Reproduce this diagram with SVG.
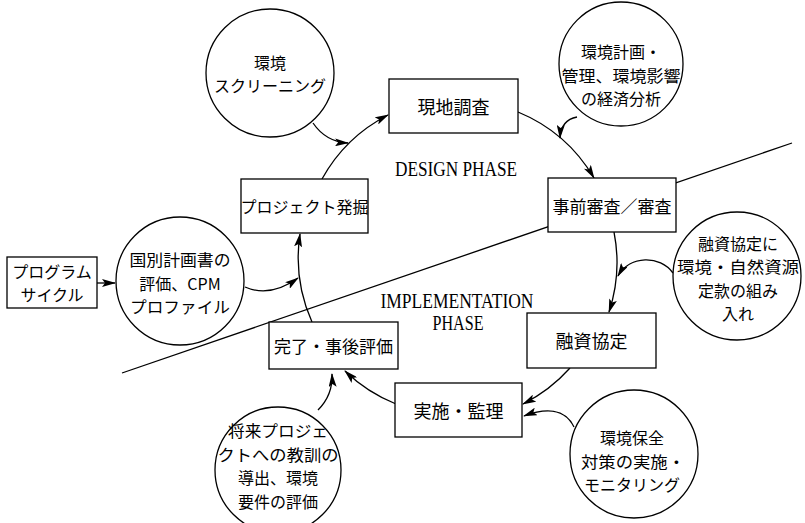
<svg xmlns="http://www.w3.org/2000/svg" width="805" height="523" viewBox="0 0 805 523">
<defs>
<marker id="ah" viewBox="0 0 14 8" refX="13" refY="4" markerWidth="14" markerHeight="8" markerUnits="userSpaceOnUse" orient="auto"><path d="M0,0 L14,4 L0,8 L3,4 z" fill="#000"/></marker>
<style>
.ln{fill:none;stroke:#000;stroke-width:1.3}
.ar{fill:none;stroke:#000;stroke-width:1.3;marker-end:url(#ah)}
.bx{fill:#fff;stroke:#000;stroke-width:1.3}
.jp{font-family:"Noto Sans CJK JP","Noto Sans CJK SC",sans-serif;font-size:17px;fill:#000;text-anchor:middle;dominant-baseline:central}
.c{font-size:16px}
.en{font-family:"Liberation Serif",serif;font-size:20px;fill:#000;text-anchor:middle}
</style>
</defs>
<rect width="805" height="523" fill="#fff"/>
<g id="phase-divider">
<line class="ln" x1="122" y1="373" x2="792" y2="143"/>
<text class="en" x="456" y="176" textLength="122" lengthAdjust="spacingAndGlyphs">DESIGN PHASE</text>
<text class="en" x="457" y="308" textLength="153" lengthAdjust="spacingAndGlyphs">IMPLEMENTATION</text>
<text class="en" x="458" y="330" textLength="51" lengthAdjust="spacingAndGlyphs">PHASE</text>
</g>
<g id="connectors">
<path class="ar" d="M322,179 A158,158 0 0 1 388,115"/>
<path class="ar" d="M518,112 A158,158 0 0 1 594,178"/>
<path class="ar" d="M614,232 A158,158 0 0 1 609,312"/>
<path class="ar" d="M570,368 A158,158 0 0 1 523,404"/>
<path class="ar" d="M396,404 A158,158 0 0 1 345,371"/>
<path class="ar" d="M312,322 A158,158 0 0 1 300,234"/>
<path class="ar" d="M313,123 Q326,142 348,143"/>
<path class="ar" d="M577,117 Q561,120 560,138"/>
<path class="ar" d="M245,287 Q270,298 298,278"/>
<path class="ar" d="M97,283 L115,283"/>
<path class="ar" d="M673,273 C660,255 630,255 618,276"/>
<path class="ar" d="M574,427 C565,408 545,408 524,416"/>
<path class="ar" d="M318,410 Q333,395 332,374"/>
</g>
<g id="genchi">
<rect class="bx" x="389" y="79" width="129" height="54"/>
<text class="jp" x="453.5" y="106" style="font-size:18px">現地調査</text>
</g>
<g id="project">
<rect class="bx" x="241" y="179" width="127" height="54"/>
<text class="jp" x="304.5" y="206" style="font-size:16px">プロジェクト発掘</text>
</g>
<g id="shinsa">
<rect class="bx" x="548" y="178" width="128" height="54"/>
<text class="jp" x="612" y="205">事前審査／審査</text>
</g>
<g id="yushi">
<rect class="bx" x="527" y="313" width="129" height="55"/>
<text class="jp" x="591.5" y="340" style="font-size:18px">融資協定</text>
</g>
<g id="jisshi">
<rect class="bx" x="395" y="383" width="127" height="54"/>
<text class="jp" x="458.5" y="410" style="font-size:18px">実施・監理</text>
</g>
<g id="kanryo">
<rect class="bx" x="269" y="322" width="129" height="47"/>
<text class="jp" x="333.5" y="345.5">完了・事後評価</text>
</g>
<g id="program">
<rect class="bx" x="7" y="257" width="90" height="51"/>
<text class="jp c" x="52" y="270.5">プログラム</text>
<text class="jp c" x="52" y="294">サイクル</text>
</g>
<g id="screening">
<circle class="bx" cx="270" cy="73" r="64"/>
<text class="jp c" x="270" y="61.5">環境</text>
<text class="jp c" x="270" y="85">スクリーニング</text>
</g>
<g id="keikaku">
<circle class="bx" cx="621" cy="64" r="62"/>
<text class="jp c" x="621" y="51">環境計画・</text>
<text class="jp c" x="621" y="74.5" textLength="119" lengthAdjust="spacingAndGlyphs">管理、環境影響</text>
<text class="jp c" x="621" y="98">の経済分析</text>
</g>
<g id="kokubetsu">
<circle class="bx" cx="180" cy="281" r="64"/>
<text class="jp c" x="180" y="259" textLength="101" lengthAdjust="spacingAndGlyphs">国別計画書の</text>
<text class="jp c" x="180" y="282.5">評価、CPM</text>
<text class="jp c" x="180" y="306" textLength="100" lengthAdjust="spacingAndGlyphs">プロファイル</text>
</g>
<g id="kumiire">
<circle class="bx" cx="737" cy="276" r="64"/>
<text class="jp c" x="738" y="242.75">融資協定に</text>
<text class="jp c" x="738" y="266.25" textLength="122" lengthAdjust="spacingAndGlyphs">環境・自然資源</text>
<text class="jp c" x="738" y="289.75">定款の組み</text>
<text class="jp c" x="738" y="313.25">入れ</text>
</g>
<g id="shorai">
<circle class="bx" cx="278" cy="470" r="63"/>
<text class="jp c" x="278" y="430.25" textLength="100" lengthAdjust="spacingAndGlyphs">将来プロジェ</text>
<text class="jp c" x="278" y="453.75" textLength="121" lengthAdjust="spacingAndGlyphs">クトへの教訓の</text>
<text class="jp c" x="278" y="477.25">導出、環境</text>
<text class="jp c" x="278" y="500.75">要件の評価</text>
</g>
<g id="hozen">
<circle class="bx" cx="634" cy="454" r="64"/>
<text class="jp c" x="632" y="437">環境保全</text>
<text class="jp c" x="633" y="460.5" textLength="104" lengthAdjust="spacingAndGlyphs">対策の実施・</text>
<text class="jp c" x="632" y="484">モニタリング</text>
</g>
</svg>
